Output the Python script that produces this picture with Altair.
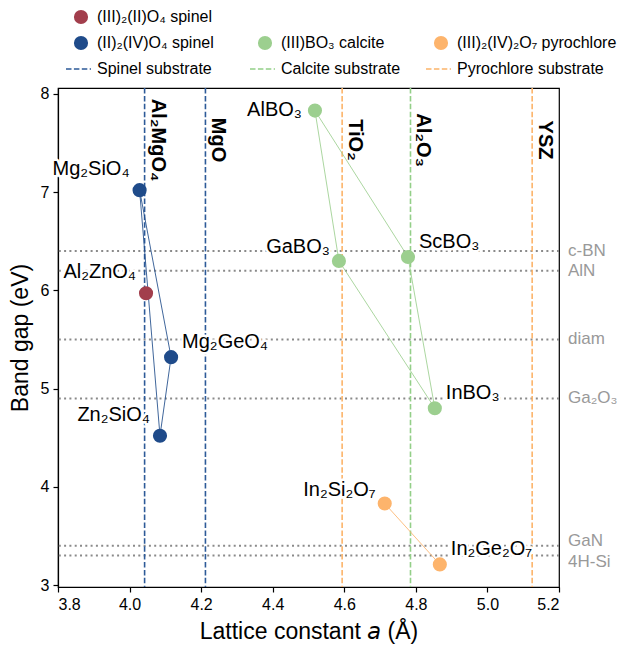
import altair as alt
import pandas as pd

FONT = "Liberation Sans"

# ---------------- data ----------------
compounds = ["Al₂ZnO₄", "Mg₂SiO₄", "Mg₂GeO₄", "Zn₂SiO₄",
             "AlBO₃", "GaBO₃", "ScBO₃", "InBO₃",
             "In₂Si₂O₇", "In₂Ge₂O₇"]
families = ["III2II_spinel", "II2IV_spinel", "II2IV_spinel", "II2IV_spinel",
            "calcite", "calcite", "calcite", "calcite",
            "pyrochlore", "pyrochlore"]
lattice_a = [4.046, 4.028, 4.116, 4.085, 4.518, 4.585, 4.778, 4.853, 4.713, 4.867]
band_gap = [5.97, 7.02, 5.32, 4.52, 7.83, 6.30, 6.34, 4.80, 3.83, 3.21]

# connecting paths (closed polygons per family)
spinel_path = ["Mg₂SiO₄", "Mg₂GeO₄", "Zn₂SiO₄", "Mg₂SiO₄"]
calcite_path = ["AlBO₃", "ScBO₃", "InBO₃", "GaBO₃", "AlBO₃"]
pyrochlore_path = ["In₂Si₂O₇", "In₂Ge₂O₇"]

substrates = ["Al₂MgO₄", "MgO", "TiO₂", "Al₂O₃", "YSZ"]
substrate_a = [4.042, 4.212, 4.594, 4.785, 5.125]
substrate_kind = ["spinel", "spinel", "pyrochlore", "calcite", "pyrochlore"]
substrate_label_gap = 7.53

ref_materials = ["c-BN", "AlN", "diamond", "Ga₂O₃", "GaN", "4H-SiC"]
ref_gaps = [6.4, 6.2, 5.5, 4.9, 3.4, 3.3]

x_domain = [3.8, 5.2]
y_domain = [2.98, 8.06]
x_ticks = [3.8, 4.0, 4.2, 4.4, 4.6, 4.8, 5.0, 5.2]
y_ticks = [3, 4, 5, 6, 7, 8]

legend_labels = ["(III)₂(II)O₄ spinel", "(II)₂(IV)O₄ spinel", "Spinel substrate",
                 "(III)BO₃ calcite", "Calcite substrate",
                 "(III)₂(IV)₂O₇ pyrochlore", "Pyrochlore substrate"]
legend_keys = ["III2II_spinel", "II2IV_spinel", "spinel",
               "calcite", "calcite_sub", "pyrochlore", "pyrochlore_sub"]
legend_kind = ["marker", "marker", "line", "marker", "line", "marker", "line"]
legend_col = [0, 0, 0, 1, 1, 2, 2]
legend_row = [0, 1, 2, 1, 2, 1, 2]

# ---------------- styles ----------------
family_colors = {"III2II_spinel": "#a23e4c", "II2IV_spinel": "#1f4b8a",
                 "calcite": "#9ccf8f", "pyrochlore": "#fdb46c"}
substrate_colors = {"spinel": "#2d5a98", "calcite": "#93cf88", "pyrochlore": "#fcb46a"}
legend_colors = {"III2II_spinel": "#a23e4c", "II2IV_spinel": "#1f4b8a",
                 "spinel": "#2d5a98", "calcite": "#9ccf8f", "calcite_sub": "#93cf88",
                 "pyrochlore": "#fdb46c", "pyrochlore_sub": "#fcb46a"}
grey = "#999999"

label_groups = {
    "upper_left": (["Mg₂SiO₄", "Al₂ZnO₄", "Zn₂SiO₄"], "right", -10, -15),
    "left": (["GaBO₃", "In₂Si₂O₇"], "right", -9, -8),
    "mid_left": (["AlBO₃"], "right", -13, 5),
    "right": (["Mg₂GeO₄", "ScBO₃", "InBO₃", "In₂Ge₂O₇"], "left", 11, -9),
}
ref_label_groups = {
    "plain": (["c-BN", "AlN", "diamond", "Ga₂O₃"], 0),
    "up": (["GaN"], -5),
    "down": (["4H-SiC"], 6),
}

# ---------------- tables ----------------
points = pd.DataFrame({"name": compounds, "family": families,
                       "a": lattice_a, "gap": band_gap})
points["color"] = points["family"].map(family_colors)

lookup = points.set_index("name")
rows = []
for fam, path in [("II2IV_spinel", spinel_path), ("calcite", calcite_path),
                  ("pyrochlore", pyrochlore_path)]:
    for i, nm in enumerate(path):
        rows.append({"family": fam, "step": i, "a": lookup.loc[nm, "a"],
                     "gap": lookup.loc[nm, "gap"], "color": family_colors[fam]})
paths = pd.DataFrame(rows)

subs = pd.DataFrame({"name": substrates, "a": substrate_a, "kind": substrate_kind})
subs["color"] = subs["kind"].map(substrate_colors)
subs["gap"] = substrate_label_gap

refs = pd.DataFrame({"name": ref_materials, "gap": ref_gaps})

legend_df = pd.DataFrame({"label": legend_labels, "key": legend_keys,
                          "kind": legend_kind, "col": legend_col, "row": legend_row})
legend_df["color"] = legend_df["key"].map(legend_colors)
handle_x = [23, 207, 383]          # relative to the plot's left edge
legend_df["hx"] = legend_df["col"].map(lambda c: handle_x[c])
legend_df["hx1"] = legend_df["hx"] - 15
legend_df["hx2"] = legend_df["hx"] + 10
legend_df["tx"] = legend_df["hx"] + 16

# ---------------- main chart ----------------
xs = alt.Scale(domain=x_domain, nice=False, zero=False)
ys = alt.Scale(domain=y_domain, nice=False, zero=False)
X = alt.X("a:Q", scale=xs,
          axis=alt.Axis(values=x_ticks, format=".1f", title="Lattice constant 𝘢 (Å)"))
Y = alt.Y("gap:Q", scale=ys,
          axis=alt.Axis(values=y_ticks, format="d", title="Band gap (eV)"))

hlines = alt.Chart(refs).mark_rule(color="#8a8a8a", strokeWidth=2,
                                   strokeDash=[2, 3.3]).encode(
    y=alt.Y("gap:Q", scale=ys))
vlines = alt.Chart(subs).mark_rule(strokeWidth=1.6, strokeDash=[5.5, 2.4]).encode(
    x=alt.X("a:Q", scale=xs), color=alt.Color("color:N", scale=None))
connectors = alt.Chart(paths).mark_line(strokeWidth=1, opacity=0.85).encode(
    x=X, y=Y, order="step:Q", detail="family:N",
    color=alt.Color("color:N", scale=None))
dots = alt.Chart(points).mark_circle(size=200, opacity=1).encode(
    x=X, y=Y, color=alt.Color("color:N", scale=None))

label_layers = []
for names, align, dx, dy in label_groups.values():
    base = alt.Chart(points).transform_filter(
        alt.FieldOneOfPredicate(field="name", oneOf=names))
    label_layers.append(base.mark_text(
        align=align, baseline="alphabetic", dx=dx, dy=dy, fontSize=20, font=FONT,
        color="white", stroke="white", strokeWidth=5, strokeJoin="round").encode(
        x=X, y=Y, text="name:N"))
for names, align, dx, dy in label_groups.values():
    base = alt.Chart(points).transform_filter(
        alt.FieldOneOfPredicate(field="name", oneOf=names))
    label_layers.append(base.mark_text(
        align=align, baseline="alphabetic", dx=dx, dy=dy, fontSize=20, font=FONT,
        color="black").encode(x=X, y=Y, text="name:N"))

sub_labels = alt.Chart(subs).mark_text(
    angle=90, align="center", baseline="alphabetic", dy=-7, fontSize=20,
    fontWeight="bold", font=FONT, color="black").encode(
    x=X, y=Y, text="name:N")

ref_layers = []
for names, dy in ref_label_groups.values():
    ref_layers.append(alt.Chart(refs).transform_filter(
        alt.FieldOneOfPredicate(field="name", oneOf=names)).mark_text(
        align="left", baseline="middle", dx=9, dy=dy, fontSize=17, font=FONT,
        color=grey, limit=50, ellipsis=" ").encode(
        x=alt.X(datum=x_domain[1], scale=xs), y=Y, text="name:N"))

main = alt.layer(hlines, vlines, connectors, dots, *label_layers, sub_labels,
                 *ref_layers).properties(width=501, height=499)

# ---------------- legend ----------------
LW = 501
LH = 75
lx = alt.Scale(domain=[0, LW], nice=False, zero=False)
ly = alt.Scale(domain=[-8 / 26, (LH - 8) / 26], nice=False, zero=False, reverse=True)
lbase = alt.Chart(legend_df)
leg_marks = lbase.transform_filter(alt.datum.kind == "marker").mark_circle(
    size=200, opacity=1).encode(
    x=alt.X("hx:Q", scale=lx, axis=None), y=alt.Y("row:Q", scale=ly, axis=None),
    color=alt.Color("color:N", scale=None))
leg_lines = lbase.transform_filter(alt.datum.kind == "line").mark_rule(
    strokeWidth=1.6, strokeDash=[5.5, 2.4]).encode(
    x=alt.X("hx1:Q", scale=lx, axis=None), x2="hx2:Q",
    y=alt.Y("row:Q", scale=ly, axis=None),
    color=alt.Color("color:N", scale=None))
leg_text = lbase.mark_text(align="left", baseline="middle", fontSize=16, font=FONT,
                           color="black").encode(
    x=alt.X("tx:Q", scale=lx, axis=None), y=alt.Y("row:Q", scale=ly, axis=None),
    text="label:N")
legend = alt.layer(leg_marks, leg_lines, leg_text).properties(
    width=LW, height=LH, view=alt.ViewBackground(stroke="transparent"))

chart = alt.vconcat(legend, main, spacing=0).properties(
    padding={"left": 0, "top": 0, "right": 0, "bottom": 0}
).configure_view(stroke="black", strokeWidth=1.2).configure_axis(
    labelFont=FONT, titleFont=FONT, labelFontSize=16, titleFontSize=23,
    titleFontWeight="normal", labelColor="black", titleColor="black",
    domainColor="black", tickColor="black", domainWidth=1.2, tickWidth=1.2,
    tickSize=5, labelPadding=4, titlePadding=8, grid=False
)

chart.save("out.html", embed_options={"renderer": "svg", "actions": False})
